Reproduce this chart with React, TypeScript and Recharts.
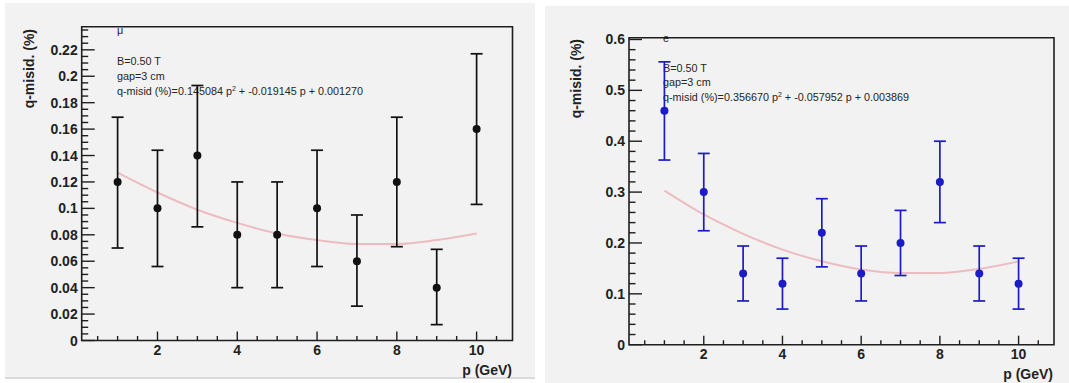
import React from 'react';
import { ComposedChart, Scatter, Line, XAxis, YAxis, ErrorBar, ReferenceArea } from 'recharts';

// ---------- data ----------
const momenta = [1, 2, 3, 4, 5, 6, 7, 8, 9, 10];

const muValues = [0.12, 0.10, 0.14, 0.08, 0.08, 0.10, 0.06, 0.12, 0.04, 0.16];
const muErrLow = [0.050, 0.044, 0.054, 0.040, 0.040, 0.044, 0.034, 0.049, 0.028, 0.057];
const muErrHigh = [0.049, 0.044, 0.053, 0.040, 0.040, 0.044, 0.035, 0.049, 0.029, 0.057];
const muFit = [0.127, 0.112, 0.099, 0.089, 0.081, 0.076, 0.073, 0.073, 0.076, 0.081];

const eValues = [0.46, 0.30, 0.14, 0.12, 0.22, 0.14, 0.20, 0.32, 0.14, 0.12];
const eErrLow = [0.097, 0.076, 0.054, 0.050, 0.067, 0.054, 0.064, 0.080, 0.054, 0.050];
const eErrHigh = [0.096, 0.076, 0.054, 0.050, 0.067, 0.054, 0.064, 0.080, 0.054, 0.050];
const eFit = [0.303, 0.256, 0.218, 0.187, 0.164, 0.148, 0.141, 0.141, 0.149, 0.164];

const xDomain: [number, number] = [0.1, 10.9];
const xMajorTicks = [2, 4, 6, 8, 10];
const xMinorStep = 0.5;

const muYMax = 0.2375;
const muYMajorTicks = [0, 0.02, 0.04, 0.06, 0.08, 0.1, 0.12, 0.14, 0.16, 0.18, 0.2, 0.22];
const muYMinorStep = 0.005;

const eYMax = 0.6035;
const eYMajorTicks = [0, 0.1, 0.2, 0.3, 0.4, 0.5, 0.6];
const eYMinorStep = 0.02;

const muLabel = 'μ';
const eLabel = 'e';
const muInfo = ['B=0.50 T', 'gap=3 cm'];
const muFormula = ['q-misid (%)=0.145084 p', '2', ' + -0.019145 p + 0.001270'];
const eInfo = ['B=0.50 T', 'gap=3 cm'];
const eFormula = ['q-misid (%)=0.356670 p', '2', ' + -0.057952 p + 0.003869'];

const yTitle = 'q-misid. (%)';
const xTitle = 'p (GeV)';

// ---------- helpers ----------
const FONT = '"Liberation Sans", Arial, Helvetica, sans-serif';
const AXIS_COLOR = '#1e1e1e';

function stepTicks(from: number, to: number, step: number) {
  const out: number[] = [];
  const n = Math.floor((to - from) / step + 1e-9);
  for (let i = 0; i <= n; i++) out.push(Number((from + i * step).toFixed(6)));
  return out;
}

function isIn(list: number[], v: number) {
  return list.some((m) => Math.abs(m - v) < 1e-9);
}

function fmt(v: number) {
  return String(Number(v.toFixed(4)));
}

function makeYTick(majors: number[], majorLen: number, minorLen: number) {
  return (props: any) => {
    const { x, y, payload } = props;
    const v = payload.value as number;
    const major = isIn(majors, v);
    return (
      <g>
        <line x1={x} x2={x + (major ? majorLen : minorLen)} y1={y} y2={y} stroke={AXIS_COLOR} strokeWidth={1.4} />
        {major && (
          <text x={x - 4} y={y} dy={5} textAnchor="end" fontFamily={FONT} fontWeight="bold" fontSize={14} fill="#222">
            {fmt(v)}
          </text>
        )}
      </g>
    );
  };
}

function makeXTick(majors: number[], majorLen: number, minorLen: number) {
  return (props: any) => {
    const { x, y, payload } = props;
    const v = payload.value as number;
    const major = isIn(majors, v);
    return (
      <g>
        <line x1={x} x2={x} y1={y} y2={y - (major ? majorLen : minorLen)} stroke={AXIS_COLOR} strokeWidth={1.4} />
        {major && (
          <text x={x} y={y} dy={14} textAnchor="middle" fontFamily={FONT} fontWeight="bold" fontSize={14} fill="#222">
            {fmt(v)}
          </text>
        )}
      </g>
    );
  };
}

type PanelProps = {
  left: number;
  top: number;
  width: number;
  height: number;
  margin: { top: number; right: number; bottom: number; left: number };
  yAxisWidth: number;
  xAxisHeight: number;
  values: number[];
  errLow: number[];
  errHigh: number[];
  fit: number[];
  yMax: number;
  yMajor: number[];
  yMinorStep: number;
  color: string;
  label: string;
  info: string[];
  formula: string[];
  textX: number;
  textY: number[];
  labelY: number;
  yTitleX: number;
  yTitleY: number;
  xTitleX: number;
  xTitleY: number;
  borderBottom?: string;
};

function Panel(p: PanelProps) {
  const points = momenta.map((x, i) => ({ x, y: p.values[i], err: [p.errLow[i], p.errHigh[i]] }));
  const fitData = momenta.map((x, i) => ({ x, y: p.fit[i] }));
  const yTicks = stepTicks(0, p.yMax, p.yMinorStep);
  const xTicks = stepTicks(0.5, 10.5, xMinorStep);
  return (
    <div
      style={{
        position: 'absolute',
        left: p.left,
        top: p.top,
        width: p.width,
        height: p.height,
        background: '#f2f2f2',
        borderBottom: p.borderBottom,
        boxSizing: 'border-box',
      }}
    >
      <svg width={p.width} height={p.height} style={{ position: 'absolute', left: 0, top: 0 }}>
        <g fontFamily={FONT} fill="#262626" fontSize={10.8}>
          <text x={p.textX} y={p.labelY}>{p.label}</text>
          <text x={p.textX} y={p.textY[0]}>{p.info[0]}</text>
          <text x={p.textX} y={p.textY[1]}>{p.info[1]}</text>
          <text x={p.textX} y={p.textY[2]}>
            <tspan>{p.formula[0]}</tspan>
            <tspan dy={-4} fontSize={7}>{p.formula[1]}</tspan>
            <tspan dy={4} style={{ whiteSpace: 'pre' }}>{p.formula[2]}</tspan>
          </text>
        </g>
        <text
          x={p.yTitleX}
          y={p.yTitleY}
          transform={`rotate(-90 ${p.yTitleX} ${p.yTitleY})`}
          textAnchor="end"
          fontFamily={FONT}
          fontWeight="bold"
          fontSize={14}
          fill="#222"
        >
          {yTitle}
        </text>
        <text x={p.xTitleX} y={p.xTitleY} textAnchor="end" fontFamily={FONT} fontWeight="bold" fontSize={14} fill="#222">
          {xTitle}
        </text>
      </svg>
      <div style={{ position: 'absolute', left: 0, top: 0 }}>
        <ComposedChart width={p.width} height={p.height} margin={p.margin}>
          <XAxis
            dataKey="x"
            type="number"
            domain={xDomain}
            allowDataOverflow
            ticks={xTicks}
            interval={0}
            height={p.xAxisHeight}
            axisLine={false}
            tickLine={false}
            tickSize={0}
            tickMargin={0}
            tick={makeXTick(xMajorTicks, 9, 4.5)}
          />
          <YAxis
            type="number"
            domain={[0, p.yMax]}
            allowDataOverflow
            ticks={yTicks}
            interval={0}
            width={p.yAxisWidth}
            axisLine={false}
            tickLine={false}
            tickSize={0}
            tickMargin={0}
            tick={makeYTick(p.yMajor, 13, 6.5)}
          />
          <Line
            data={fitData}
            dataKey="y"
            type="monotone"
            stroke="#ecbcc1"
            strokeWidth={2}
            dot={false}
            activeDot={false}
            isAnimationActive={false}
          />
          <Scatter
            data={points}
            dataKey="y"
            isAnimationActive={false}
            shape={(s: any) => <circle cx={s.cx} cy={s.cy} r={4} fill={p.color} />}
          >
            <ErrorBar dataKey="err" direction="y" width={6} stroke={p.color} strokeWidth={1.7} isAnimationActive={false} />
          </Scatter>
          <ReferenceArea
            x1={xDomain[0]}
            x2={xDomain[1]}
            y1={0}
            y2={p.yMax}
            fill="none"
            fillOpacity={0}
            stroke={AXIS_COLOR}
            strokeWidth={1.6}
            ifOverflow="visible"
          />
        </ComposedChart>
      </div>
    </div>
  );
}

export default function App() {
  return (
    <div style={{ position: 'absolute', left: 0, top: 0, width: 1069, height: 383, background: '#ffffff', overflow: 'hidden' }}>
      <Panel
        left={5}
        top={3}
        width={530}
        height={376}
        margin={{ top: 23.7, right: 22.5, bottom: 0, left: 0 }}
        yAxisWidth={76.7}
        xAxisHeight={38.5}
        values={muValues}
        errLow={muErrLow}
        errHigh={muErrHigh}
        fit={muFit}
        yMax={muYMax}
        yMajor={muYMajorTicks}
        yMinorStep={muYMinorStep}
        color="#111111"
        label={muLabel}
        info={muInfo}
        formula={muFormula}
        textX={112}
        textY={[62, 77, 91.5]}
        labelY={31}
        yTitleX={29}
        yTitleY={26}
        xTitleX={507}
        xTitleY={371.5}
        borderBottom="2px solid #dadada"
      />
      <Panel
        left={545}
        top={6}
        width={524}
        height={377}
        margin={{ top: 31.7, right: 15, bottom: 0, left: 0 }}
        yAxisWidth={84}
        xAxisHeight={38.3}
        values={eValues}
        errLow={eErrLow}
        errHigh={eErrHigh}
        fit={eFit}
        yMax={eYMax}
        yMajor={eYMajorTicks}
        yMinorStep={eYMinorStep}
        color="#1c1cc4"
        label={eLabel}
        info={eInfo}
        formula={eFormula}
        textX={118}
        textY={[65.5, 79.5, 94.5]}
        labelY={36}
        yTitleX={36}
        yTitleY={33}
        xTitleX={508}
        xTitleY={373}
      />
    </div>
  );
}
